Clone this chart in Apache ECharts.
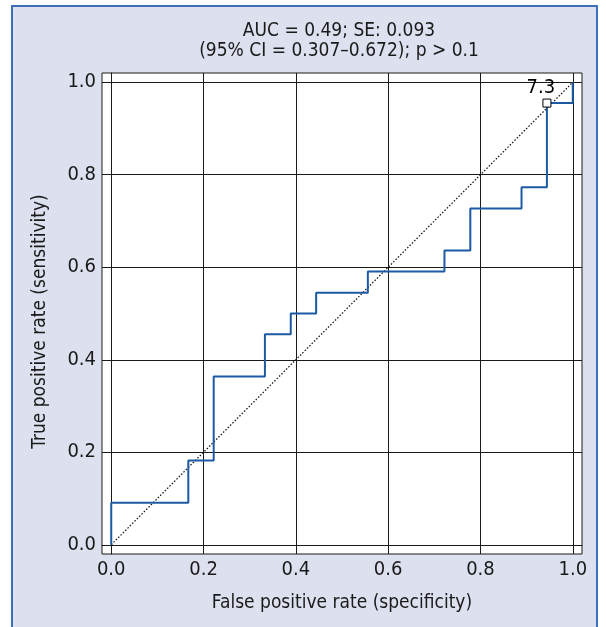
<!DOCTYPE html>
<html>
<head>
<meta charset="utf-8">
<script src="https://cdn.jsdelivr.net/npm/echarts@6/dist/echarts.min.js"></script>
<style>
  html, body { margin: 0; padding: 0; background: #fff; }
  #roc { width: 606px; height: 627px; }
</style>
</head>
<body>
<div id="roc"></div>
<script>
  // ROC corner points (step curve)
  var fpr = [0, 0, 0.167, 0.222, 0.333, 0.389, 0.444, 0.556, 0.722, 0.778, 0.889, 0.944, 1]
  var tpr = [0, 0.091, 0.182, 0.364, 0.455, 0.5, 0.545, 0.591, 0.636, 0.727, 0.773, 0.955, 1]
  // chance line
  var refX = [0, 1]
  var refY = [0, 1]
  // optimal cut-off
  var cutoffX = [0.944]
  var cutoffY = [0.955]
  var cutoffLabel = ['7.3']
  var axisTicks = [0, 0.2, 0.4, 0.6, 0.8, 1.0]
  var titleLines = ['AUC = 0.49; SE: 0.093', '(95% CI = 0.307–0.672); p > 0.1']
  var xName = 'False positive rate (specificity)'
  var yName = 'True positive rate (sensitivity)'

  var FONT = "'Liberation Sans Narrow', 'Arial Narrow', 'DejaVu Sans Condensed', 'Liberation Sans', sans-serif"
  var INK = '#1a1a1a'

  var myChart = echarts.init(document.getElementById('roc'))

  function zip (xs, ys) {
    return xs.map(function (x, i) { return [x, ys[i]] })
  }

  function valueAxis (name, extra) {
    var ax = {
      type: 'value',
      min: -0.02,
      max: 1.02,
      name: name,
      nameLocation: 'middle',
      nameTextStyle: { fontFamily: FONT, fontSize: 19, color: INK },
      axisLine: { show: true, lineStyle: { color: INK, width: 1 } },
      axisTick: { show: true, customValues: axisTicks, length: 5, lineStyle: { color: INK } },
      axisLabel: {
        customValues: axisTicks,
        fontFamily: FONT,
        fontSize: 20,
        color: INK,
        margin: 6,
        formatter: function (v) { return v.toFixed(1) }
      },
      splitLine: { show: true, lineStyle: { color: INK, width: 1 } }
    }
    return Object.assign(ax, extra)
  }

  var option = {
    backgroundColor: '#fff',
    animation: false,
    graphic: [
      {
        type: 'rect',
        z: -10,
        silent: true,
        shape: { x: 12, y: 6, width: 585, height: 640 },
        style: { fill: '#dde1ef', stroke: '#3d6fb6', lineWidth: 2 }
      }
    ],
    title: {
      text: titleLines.join('\n'),
      left: 339,
      top: 21,
      padding: 0,
      textAlign: 'center',
      textStyle: { fontFamily: FONT, fontSize: 19, fontWeight: 'normal', color: INK, lineHeight: 20 }
    },
    grid: {
      left: 102,
      top: 73,
      width: 480,
      height: 481,
      outerBoundsMode: 'none',
      show: true,
      backgroundColor: '#fff',
      borderColor: INK,
      borderWidth: 1
    },
    xAxis: valueAxis(xName, { nameGap: 40 }),
    yAxis: valueAxis(yName, {
      nameGap: 52,
      nameTextStyle: { fontFamily: FONT, fontSize: 19, color: INK, padding: [0, 16, 0, 0] }
    }),
    series: [
      {
        name: 'chance',
        type: 'line',
        data: zip(refX, refY),
        symbol: 'none',
        lineStyle: { color: INK, width: 1.3, type: [1.5, 1.8] },
        z: 2
      },
      {
        name: 'ROC',
        type: 'line',
        step: 'end',
        data: zip(fpr, tpr),
        symbol: 'none',
        lineStyle: { color: '#1d5aa3', width: 2 },
        z: 3
      },
      {
        name: 'cutoff',
        type: 'scatter',
        data: zip(cutoffX, cutoffY),
        symbol: 'rect',
        symbolSize: 8,
        itemStyle: { color: '#fff', borderColor: '#000', borderWidth: 1, opacity: 1 },
        label: {
          show: true,
          position: 'top',
          distance: 1,
          offset: [-6, 0],
          fontFamily: FONT,
          fontSize: 20,
          color: '#000',
          formatter: function (p) { return cutoffLabel[p.dataIndex] }
        },
        z: 4
      }
    ]
  }

  myChart.setOption(option)
</script>
</body>
</html>
